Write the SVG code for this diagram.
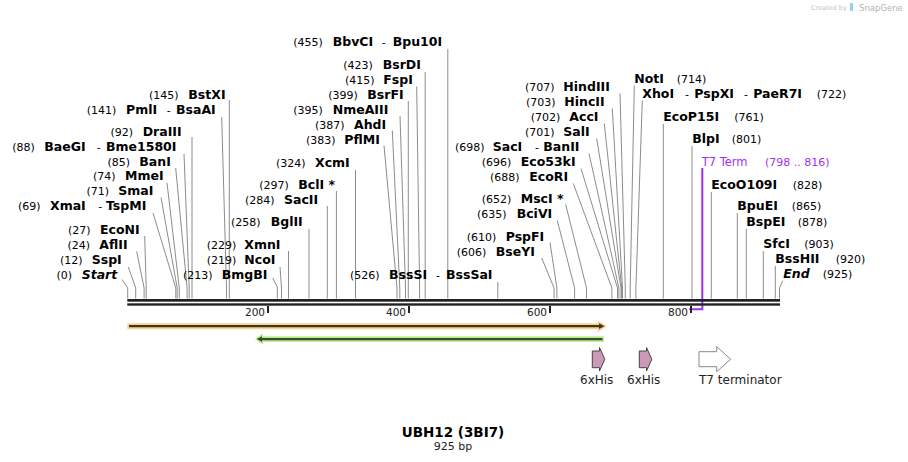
<svg xmlns="http://www.w3.org/2000/svg" width="908" height="462" viewBox="0 0 908 462">
<style>
text{font-family:"DejaVu Sans",Verdana,sans-serif;fill:#000}
.n{font-size:11px}
.b{font-size:12.5px;font-weight:bold}
.bi{font-size:12.5px;font-weight:bold;font-style:italic}
.d{font-size:11px}
.c polyline{fill:none;stroke:#8c8c8c;stroke-width:1}
.tk{font-size:10.5px;text-anchor:end;fill:#222}
.ft{font-size:12px;text-anchor:middle;fill:#222}
.pu{fill:#a030f0}
</style>
<rect width="908" height="462" fill="#fff"/>
<g id="watermark">
<text x="811" y="10" font-size="6.5" style="fill:#c4c4c4">Created by</text>
<rect x="850" y="3" width="3" height="8" rx="1" fill="#8fd0f0"/>
<text x="859" y="11" font-size="8.5" style="fill:#b4b4b4">SnapGene</text>
</g>
<g id="connectors" class="c">
<polyline points="122,279.5 127.7,288 127.7,298.5"/>
<polyline points="128.3,267 135.7,288 135.7,298.5"/>
<polyline points="136.7,251.5 144.1,288 144.1,298.5"/>
<polyline points="144.7,236 146.2,288 146.2,298.5"/>
<polyline points="153,213 175.8,288 175.8,298.5"/>
<polyline points="161,197.5 177.2,288 177.2,298.5"/>
<polyline points="167,183 179.3,288 179.3,298.5"/>
<polyline points="175.7,168 187.1,288 187.1,298.5"/>
<polyline points="184,154 189.2,288 189.2,298.5"/>
<polyline points="192,137 192,298.5"/>
<polyline points="221.7,117 226.5,288 226.5,298.5"/>
<polyline points="229.3,100 229.3,298.5"/>
<polyline points="272.7,278 277.3,287 277.3,298.5"/>
<polyline points="280,267 281.5,288 281.5,298.5"/>
<polyline points="288.5,251 288.5,298.5"/>
<polyline points="309,229 309,298.5"/>
<polyline points="327.3,206 327.3,298.5"/>
<polyline points="336.4,191 336.4,298.5"/>
<polyline points="355.5,170 355.5,298.5"/>
<polyline points="384,145.5 397,288 397,298.5"/>
<polyline points="392.3,130.5 399.8,288 399.8,298.5"/>
<polyline points="400,116 405.5,288 405.5,298.5"/>
<polyline points="408.3,101 408.3,298.5"/>
<polyline points="416.7,86.5 419.6,288 419.6,298.5"/>
<polyline points="425.2,72 425.2,298.5"/>
<polyline points="447.8,49 447.8,298.5"/>
<polyline points="497.8,282 497.8,298.5"/>
<polyline points="541.7,258 554.1,288 554.1,298.5"/>
<polyline points="550,242.5 556.9,288 556.9,298.5"/>
<polyline points="557.3,220.5 574.6,288 574.6,298.5"/>
<polyline points="565.7,204.5 586.5,288 586.5,298.5"/>
<polyline points="573.3,183.5 611.9,288 611.9,298.5"/>
<polyline points="581,168.5 617.5,288 617.5,298.5"/>
<polyline points="589,153.5 618.9,288 618.9,298.5"/>
<polyline points="596.7,138.5 621,288 621,298.5"/>
<polyline points="604.3,123.5 621.7,288 621.7,298.5"/>
<polyline points="612.3,108.5 622.5,288 622.5,298.5"/>
<polyline points="620,93.5 625.3,288 625.3,298.5"/>
<polyline points="634.3,85.5 630.2,288 630.2,298.5"/>
<polyline points="642.3,100.5 635.9,288 635.9,298.5"/>
<polyline points="663.3,124 663.3,298.5"/>
<polyline points="692,146 692,298.5"/>
<polyline points="711.3,192 711.3,298.5"/>
<polyline points="737.3,213 737.3,298.5"/>
<polyline points="746.3,229 746.3,298.5"/>
<polyline points="763.3,251 763.3,298.5"/>
<polyline points="775.3,266 775.3,298.5"/>
<polyline points="782.7,280.5 779.5,288 779.5,298.5"/>
<polyline points="702.3,168 702.3,309.3 689.3,309.3" style="stroke:#a030f0;stroke-width:2"/>
</g>
<g id="backbone">
<rect x="127.3" y="299" width="652.7" height="2.7" fill="#222"/>
<rect x="127.3" y="303.3" width="652.7" height="2.4" fill="#222"/>
<rect x="267" y="306" width="2" height="7" fill="#222"/>
<rect x="408" y="306" width="2" height="7" fill="#222"/>
<rect x="549" y="306" width="2" height="7" fill="#222"/>
<rect x="690" y="306" width="2" height="7" fill="#222"/>
<text class="tk" x="265" y="316">200</text>
<text class="tk" x="406" y="316">400</text>
<text class="tk" x="547" y="316">600</text>
<text class="tk" x="688" y="316">800</text>
</g>
<g id="e0"><text class="n" x="56.5" y="278.5">(0)</text><text class="bi" x="81.7" y="278.5">Start</text></g>
<g id="e12"><text class="n" x="60" y="263.5">(12)</text><text class="b" x="91.7" y="263.5">SspI</text></g>
<g id="e24"><text class="n" x="67.5" y="248.5">(24)</text><text class="b" x="99.3" y="248.5">AflII</text></g>
<g id="e27"><text class="n" x="68" y="233.5">(27)</text><text class="b" x="100" y="233.5">EcoNI</text></g>
<g id="e69"><text class="n" x="18" y="210">(69)</text><text class="b" x="50" y="210">XmaI</text><text class="n" x="98.3" y="210">-</text><text class="b" x="106" y="210">TspMI</text></g>
<g id="e71"><text class="n" x="86.5" y="195">(71)</text><text class="b" x="118.3" y="195">SmaI</text></g>
<g id="e74"><text class="n" x="93" y="180">(74)</text><text class="b" x="125" y="180">MmeI</text></g>
<g id="e85"><text class="n" x="107.5" y="165.5">(85)</text><text class="b" x="139.3" y="165.5">BanI</text></g>
<g id="e88"><text class="n" x="12.3" y="151">(88)</text><text class="b" x="44.3" y="151">BaeGI</text><text class="n" x="96.7" y="151">-</text><text class="b" x="106" y="151">Bme1580I</text></g>
<g id="e92"><text class="n" x="110.5" y="136">(92)</text><text class="b" x="142.7" y="136">DraIII</text></g>
<g id="e141"><text class="n" x="86.7" y="114">(141)</text><text class="b" x="126" y="114">PmlI</text><text class="n" x="166.7" y="114">-</text><text class="b" x="176" y="114">BsaAI</text></g>
<g id="e145"><text class="n" x="149" y="99">(145)</text><text class="b" x="188.3" y="99">BstXI</text></g>
<g id="e213"><text class="n" x="183" y="278.5">(213)</text><text class="b" x="221.7" y="278.5">BmgBI</text></g>
<g id="e219"><text class="n" x="206.7" y="263.5">(219)</text><text class="b" x="244.3" y="263.5">NcoI</text></g>
<g id="e229"><text class="n" x="206.7" y="248.5">(229)</text><text class="b" x="244.3" y="248.5">XmnI</text></g>
<g id="e258"><text class="n" x="231" y="225.5">(258)</text><text class="b" x="270.7" y="225.5">BglII</text></g>
<g id="e284"><text class="n" x="245" y="203.5">(284)</text><text class="b" x="284" y="203.5">SacII</text></g>
<g id="e297"><text class="n" x="259.3" y="188.5">(297)</text><text class="b" x="298.3" y="188.5">BclI *</text></g>
<g id="e324"><text class="n" x="276" y="166.5">(324)</text><text class="b" x="315" y="166.5">XcmI</text></g>
<g id="e383"><text class="n" x="306" y="143.5">(383)</text><text class="b" x="344.3" y="143.5">PflMI</text></g>
<g id="e387"><text class="n" x="315" y="128.5">(387)</text><text class="b" x="354" y="128.5">AhdI</text></g>
<g id="e395"><text class="n" x="293.3" y="113.5">(395)</text><text class="b" x="332.7" y="113.5">NmeAIII</text></g>
<g id="e399"><text class="n" x="328.3" y="98.5">(399)</text><text class="b" x="367.3" y="98.5">BsrFI</text></g>
<g id="e415"><text class="n" x="345" y="83.5">(415)</text><text class="b" x="383.3" y="83.5">FspI</text></g>
<g id="e423"><text class="n" x="343.3" y="68.5">(423)</text><text class="b" x="382.7" y="68.5">BsrDI</text></g>
<g id="e455"><text class="n" x="293.3" y="46">(455)</text><text class="b" x="332.7" y="46">BbvCI</text><text class="n" x="381.7" y="46">-</text><text class="b" x="392.7" y="46">Bpu10I</text></g>
<g id="e526"><text class="n" x="350" y="278.5">(526)</text><text class="b" x="389" y="278.5">BssSI</text><text class="n" x="436" y="278.5">-</text><text class="b" x="446" y="278.5">BssSaI</text></g>
<g id="e606"><text class="n" x="456.7" y="255.5">(606)</text><text class="b" x="495.7" y="255.5">BseYI</text></g>
<g id="e610"><text class="n" x="466.7" y="240.5">(610)</text><text class="b" x="505.7" y="240.5">PspFI</text></g>
<g id="e635"><text class="n" x="477" y="218">(635)</text><text class="b" x="516.7" y="218">BciVI</text></g>
<g id="e652"><text class="n" x="481.7" y="202.5">(652)</text><text class="b" x="520.7" y="202.5">MscI *</text></g>
<g id="e688"><text class="n" x="490" y="181">(688)</text><text class="b" x="529.3" y="181">EcoRI</text></g>
<g id="e696"><text class="n" x="481.7" y="166">(696)</text><text class="b" x="520.7" y="166">Eco53kI</text></g>
<g id="e698"><text class="n" x="455" y="151">(698)</text><text class="b" x="492.7" y="151">SacI</text><text class="n" x="535" y="151">-</text><text class="b" x="543.3" y="151">BanII</text></g>
<g id="e701"><text class="n" x="525" y="136">(701)</text><text class="b" x="563.3" y="136">SalI</text></g>
<g id="e702"><text class="n" x="530.7" y="121">(702)</text><text class="b" x="569.3" y="121">AccI</text></g>
<g id="e703"><text class="n" x="526" y="106">(703)</text><text class="b" x="564.3" y="106">HincII</text></g>
<g id="e707"><text class="n" x="525" y="91">(707)</text><text class="b" x="563.3" y="91">HindIII</text></g>
<g id="e714"><text class="b" x="634.3" y="83">NotI</text><text class="n" x="676.7" y="83">(714)</text></g>
<g id="e722"><text class="b" x="642.3" y="98">XhoI</text><text class="n" x="685" y="98">-</text><text class="b" x="694.3" y="98">PspXI</text><text class="n" x="744" y="98">-</text><text class="b" x="753.3" y="98">PaeR7I</text><text class="n" x="816.7" y="98">(722)</text></g>
<g id="e761"><text class="b" x="663.3" y="121">EcoP15I</text><text class="n" x="734.3" y="121">(761)</text></g>
<g id="e801"><text class="b" x="692.3" y="143">BlpI</text><text class="n" x="731.7" y="143">(801)</text></g>
<g id="t7term"><text class="pu" x="701.7" y="166" font-size="11.5">T7 Term</text><text class="pu" x="765" y="166" font-size="11">(798 .. 816)</text></g>
<g id="e828"><text class="b" x="711.3" y="189">EcoO109I</text><text class="n" x="792.7" y="189">(828)</text></g>
<g id="e865"><text class="b" x="737.3" y="210">BpuEI</text><text class="n" x="791.7" y="210">(865)</text></g>
<g id="e878"><text class="b" x="746.3" y="226">BspEI</text><text class="n" x="797.7" y="226">(878)</text></g>
<g id="e903"><text class="b" x="763.3" y="248">SfcI</text><text class="n" x="804.3" y="248">(903)</text></g>
<g id="e920"><text class="b" x="775.3" y="263">BssHII</text><text class="n" x="835.7" y="263">(920)</text></g>
<g id="e925"><text class="bi" x="783.3" y="278">End</text><text class="n" x="822.7" y="278">(925)</text></g>
<g id="orf1">
<path d="M127.3,323.3 H598 V320.5 L607,326.2 L598,332 V329.3 H127.3 Z" fill="#fdd38c"/>
<path d="M129,325.1 H599 V323.3 L604.5,326.2 L599,329.1 V327.3 H129 Z" fill="#3b352c"/>
</g>
<g id="orf2">
<path d="M604,336.2 H263 V333.3 L255,339.1 L263,344.8 V342 H604 Z" fill="#b8ef8e"/>
<path d="M602.5,338 H262 V336.2 L256.8,339.1 L262,342 V340.2 H602.5 Z" fill="#3c4a35"/>
</g>
<g id="his1">
<polygon points="592.3,351 599.5,351 599.5,347.5 604.8,359.3 599.5,371 599.5,367.7 592.3,367.7" fill="#cc9ab8" stroke="#444" stroke-width="1"/>
<text class="ft" x="596.7" y="384">6xHis</text>
</g>
<g id="his2">
<polygon points="639.3,351 646.5,351 646.5,347.5 651.8,359.3 646.5,371 646.5,367.7 639.3,367.7" fill="#cc9ab8" stroke="#444" stroke-width="1"/>
<text class="ft" x="643.7" y="384">6xHis</text>
</g>
<g id="t7terminator">
<polygon points="699,351.7 716.7,351.7 716.7,346.7 730.7,359.2 716.7,371.7 716.7,366.7 699,366.7" fill="#fff" stroke="#888" stroke-width="1"/>
<text class="ft" x="740.3" y="384">T7 terminator</text>
</g>
<g id="title">
<text x="453" y="437" font-size="13.5" font-weight="bold" text-anchor="middle">UBH12 (3BI7)</text>
<text x="453" y="449.5" font-size="11" text-anchor="middle" style="fill:#222">925 bp</text>
</g>
</svg>
